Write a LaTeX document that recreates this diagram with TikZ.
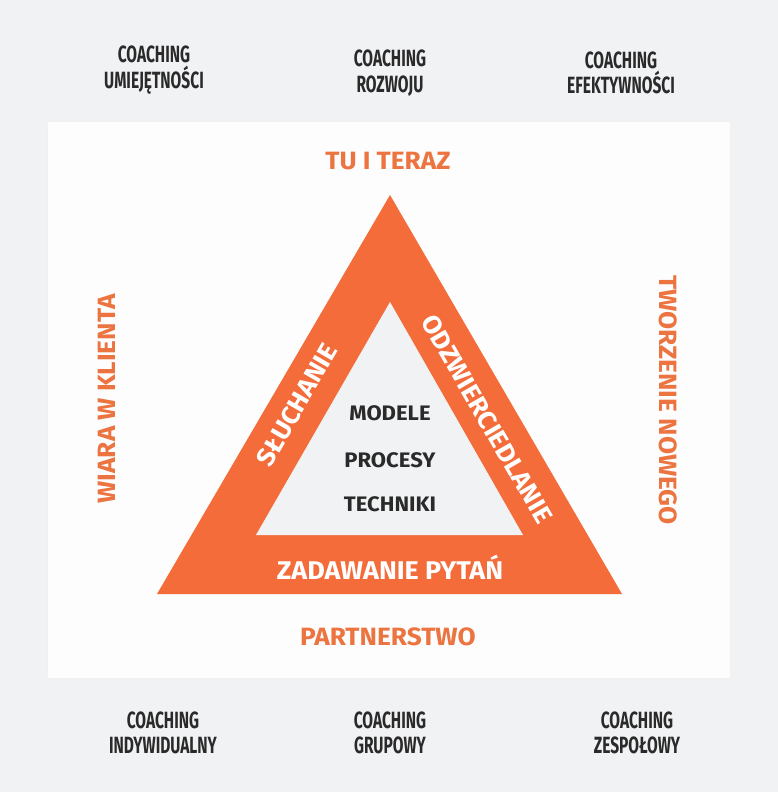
\documentclass[tikz,border=0pt]{standalone}
\usepackage{fontspec}
\setmainfont{Fira Sans}
\newfontfamily\condf{Fira Sans Bold}[FakeStretch=0.66]
\newfontfamily\boldf{Fira Sans Bold}[FakeStretch=1.05]
\definecolor{bgc}{HTML}{F1F2F4}
\definecolor{panel}{HTML}{FDFDFD}
\definecolor{orng}{HTML}{F36C3A}
\definecolor{otext}{HTML}{EC7441}
\definecolor{dtext}{HTML}{2A2A2A}
\definecolor{innerc}{HTML}{F1F2F4}
\begin{document}
\begin{tikzpicture}[x=1pt,y=-1pt,
  coach/.style={font=\condf\fontsize{23.5}{25.5}\selectfont, text=dtext, align=center, inner sep=0pt},
  olabel/.style={font=\boldf\fontsize{25}{28}\selectfont, text=otext, inner sep=0pt},
  wlabel/.style={font=\boldf\fontsize{25.6}{28}\selectfont, text=white, inner sep=0pt},
  ilabel/.style={font=\boldf\fontsize{21}{24}\selectfont, text=dtext, inner sep=0pt}]
\fill[bgc] (0,0) rectangle (778,792);
\useasboundingbox (0,0) rectangle (778,792);
\fill[black!6] (47,121) rectangle (731,679);
\fill[panel] (48,122) rectangle (730,678);
% triangles
\coordinate (A) at (390,195);
\coordinate (B) at (157,594);
\coordinate (C) at (622,594);
\coordinate (a) at (390,302);
\coordinate (b) at (256,535);
\coordinate (c) at (523,535);
\fill[orng] (A) -- (B) -- (C) -- cycle;
\fill[innerc] (a) -- (b) -- (c) -- cycle;
% top labels
\node[coach] (t1) at (154,70) {COACHING\\UMIEJĘTNOŚCI};
\node[coach] (t2) at (390,73) {COACHING\\ROZWOJU};
\node[coach] (t3) at (621,73) {COACHING\\EFEKTYWNOŚCI};
\node[coach] (b1) at (163,733) {COACHING\\INDYWIDUALNY};
\node[coach] (b2) at (390,733) {COACHING\\GRUPOWY};
\node[coach] (b3) at (637,733) {COACHING\\ZESPOŁOWY};
% orange labels
\node[olabel] (tu) at (388,161) {TU I TERAZ};
\node[olabel] (pa) at (388,637) {PARTNERSTWO};
\node[olabel, rotate=90] (wi) at (107,399) {WIARA W KLIENTA};
\node[olabel, rotate=-90] (tw) at (668,400) {TWORZENIE NOWEGO};
% white labels
\node[wlabel, rotate=60] (sl) at (297,405) {SŁUCHANIE};
\node[wlabel, rotate=-60] (od) at (487,419) {ODZWIERCIEDLANIE};
\node[wlabel] (za) at (390,567) {ZADAWANIE PYTAŃ};
% inner labels
\node[ilabel] (mo) at (390,413) {MODELE};
\node[ilabel] (pr) at (390,460) {PROCESY};
\node[ilabel] (te) at (390,504) {TECHNIKI};
\end{tikzpicture}
\end{document}
